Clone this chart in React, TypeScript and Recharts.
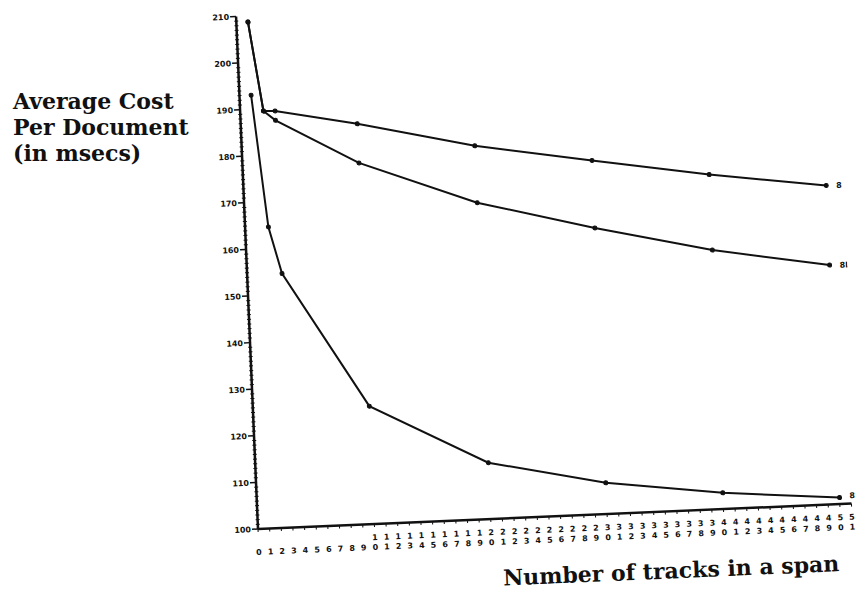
import React from 'react';
import { LineChart, Line, XAxis, YAxis } from 'recharts';

// values (tracks per span vs. msecs)
const tracks = [1, 2, 3, 10, 20, 30, 40, 50];
const costTop = [208.7, 189.5, 189.4, 185.9, 180.1, 175.9, 171.8, 168.4];
const costMid = [208.7, 189.5, 187.4, 177.5, 167.9, 161.4, 155.6, 151.3];
const costLow = [193.0, 164.6, 154.5, 125.3, 112.1, 106.7, 103.5, 101.4];
const endLabels = ['8', '8L', '8'];

const yLabels = [100, 110, 120, 130, 140, 150, 160, 170, 180, 190, 200, 210];
const yMinorTicks = Array.from({ length: 111 }, (_, i) => 100 + i);
const xTicks = Array.from({ length: 52 }, (_, i) => i);

const ink = '#111';
const tickFont = { fontFamily: 'DejaVu Sans', fontWeight: 700, fontSize: 8, fill: ink };

function YTick(props: any) {
  const { x, y, payload } = props;
  const v = payload.value;
  if (!yLabels.includes(v)) {
    return <line x1={x - 2} x2={x + 2} y1={y} y2={y} stroke={ink} strokeWidth={1} />;
  }
  return (
    <g>
      <line x1={x - 6} x2={x} y1={y} y2={y} stroke={ink} strokeWidth={1.5} />
      <text x={x - 7} y={y + 3} textAnchor="end" {...tickFont}>
        {v}
      </text>
    </g>
  );
}

function XTick(props: any) {
  const { x, y, payload } = props;
  const s = String(payload.value);
  return (
    <g>
      <line x1={x} x2={x} y1={y} y2={y + 3} stroke={ink} strokeWidth={1} />
      {s.length === 2 && (
        <text x={x} y={y + 16} textAnchor="middle" {...tickFont}>
          {s[0]}
        </text>
      )}
      <text x={x} y={y + 26} textAnchor="middle" {...tickFont}>
        {s[s.length - 1]}
      </text>
    </g>
  );
}

// only the last point of each curve gets its name
const endLabel = (name: string, dy: number) => (props: any) => {
  const { x, y, index } = props;
  if (index !== tracks.length - 1) return <g />;
  return (
    <text x={x + 10} y={y + 3 + dy} {...tickFont}>
      {name}
    </text>
  );
};

export default function App() {
  const data = tracks.map((t, i) => ({
    tracks: t,
    top: costTop[i],
    mid: costMid[i],
    low: costLow[i],
  }));

  const dot = { r: 2, fill: ink, stroke: ink, strokeWidth: 1 };

  return (
    <div
      style={{
        position: 'absolute',
        left: 0,
        top: 0,
        width: 858,
        height: 603,
        overflow: 'hidden',
        background: '#fff',
      }}
    >
      <div
        style={{
          position: 'absolute',
          left: 13,
          top: 88,
          fontFamily: 'DejaVu Serif',
          fontWeight: 700,
          fontSize: 22,
          lineHeight: '26px',
          color: ink,
        }}
      >
        Average Cost
        <br />
        Per Document
        <br />
        (in msecs)
      </div>

      {/* the scan is tilted a little, so the whole plot is turned about its origin */}
      <div
        style={{
          position: 'absolute',
          left: 0,
          top: 0,
          width: 858,
          height: 603,
          transform: 'rotate(-2.45deg)',
          transformOrigin: '258px 529px',
        }}
      >
        <LineChart
          width={858}
          height={603}
          data={data}
          margin={{ top: 16, right: 6, left: 228, bottom: 44 }}
        >
          <XAxis
            dataKey="tracks"
            type="number"
            domain={[0, 51]}
            ticks={xTicks}
            interval={0}
            height={30}
            tickSize={0}
            tickMargin={0}
            tickLine={false}
            axisLine={{ stroke: ink, strokeWidth: 2.5 }}
            tick={<XTick />}
          />
          <YAxis
            type="number"
            domain={[100, 210]}
            ticks={yMinorTicks}
            interval={0}
            width={30}
            tickSize={0}
            tickMargin={0}
            tickLine={false}
            axisLine={{ stroke: ink, strokeWidth: 2.5 }}
            tick={<YTick />}
          />
          <Line
            type="linear"
            dataKey="top"
            stroke={ink}
            strokeWidth={2}
            dot={dot}
            label={endLabel(endLabels[0], 0)}
            isAnimationActive={false}
          />
          <Line
            type="linear"
            dataKey="mid"
            stroke={ink}
            strokeWidth={2}
            dot={dot}
            label={endLabel(endLabels[1], 0)}
            isAnimationActive={false}
          />
          <Line
            type="linear"
            dataKey="low"
            stroke={ink}
            strokeWidth={2}
            dot={dot}
            label={endLabel(endLabels[2], -2)}
            isAnimationActive={false}
          />
        </LineChart>
        <div
          style={{
            position: 'absolute',
            left: 469,
            top: 577,
            width: 400,
            textAlign: 'center',
            fontFamily: 'DejaVu Serif',
            fontWeight: 700,
            fontSize: 22,
            lineHeight: '22px',
            color: ink,
          }}
        >
          Number of tracks in a span
        </div>
      </div>
    </div>
  );
}
